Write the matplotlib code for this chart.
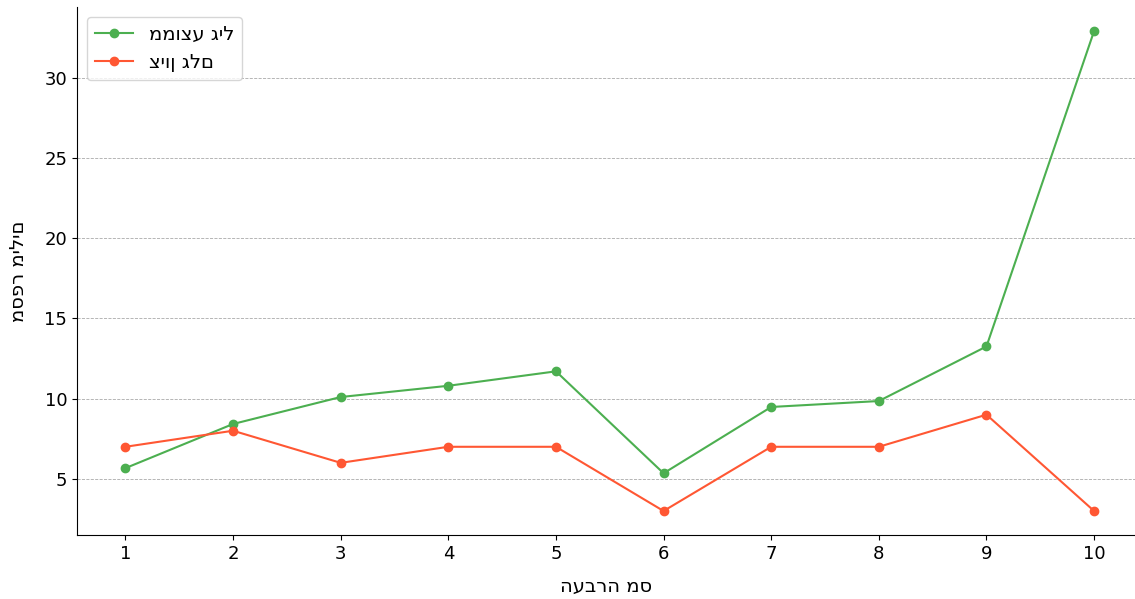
import matplotlib
matplotlib.use("Agg")
import matplotlib.pyplot as plt

# נתונים
messages = [1, 2, 3, 4, 5, 6, 7, 8, 9, 10]
avg_age = [5.67, 8.42, 10.1, 10.8, 11.7, 5.35, 9.48, 9.85, 13.25, 32.9]
raw_score = [7, 8, 6, 7, 7, 3, 7, 7, 9, 3]

fig = plt.figure(figsize=(11.35, 5.99), dpi=100)
ax = fig.add_axes([77 / 1135, 64 / 599, 1 - 77 / 1135, 528 / 599])

ax.plot(messages, avg_age, marker="o", color="#4CAF50", label="ממוצע גיל")
ax.plot(messages, raw_score, marker="o", color="#FF5733", label="ציון גלם")

ax.set_xticks(messages)
ax.set_xlim(0.55, 10.38)
ax.set_xlabel("העברה מס", fontsize=14, labelpad=10)
ax.set_ylabel("מספר מילים", fontsize=14, labelpad=12)
ax.tick_params(labelsize=13)
ax.grid(axis="y", linestyle="--", linewidth=0.6, color="#aaaaaa")
ax.spines["top"].set_visible(False)
ax.spines["right"].set_visible(False)
ax.legend(loc="upper left", fontsize=14)

fig.savefig("out.png", dpi=100)
